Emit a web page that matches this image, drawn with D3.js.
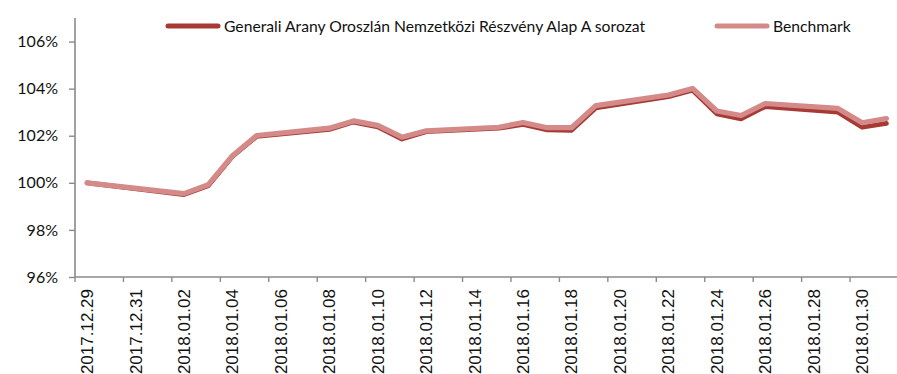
<!DOCTYPE html>
<html>
<head>
<meta charset="utf-8">
<script src="https://cdn.jsdelivr.net/npm/d3@7"></script>
<style>
  html, body { margin: 0; padding: 0; background: #fff; }
  svg { display: block; }
</style>
</head>
<body>
<svg id="chart" width="897" height="374"></svg>
<script>
// Trading days with closing values (indexed, 2017.12.29 = 100%)
const tradingDays = [
  "2017.12.29", "2018.01.02", "2018.01.03", "2018.01.04", "2018.01.05",
  "2018.01.08", "2018.01.09", "2018.01.10", "2018.01.11", "2018.01.12",
  "2018.01.15", "2018.01.16", "2018.01.17", "2018.01.18", "2018.01.19",
  "2018.01.22", "2018.01.23", "2018.01.24", "2018.01.25", "2018.01.26",
  "2018.01.29", "2018.01.30", "2018.01.31"
];
const fundValues = [
  100.00, 99.50, 99.88, 101.12, 101.97,
  102.27, 102.58, 102.38, 101.86, 102.17,
  102.32, 102.48, 102.25, 102.23, 103.18,
  103.66, 103.93, 102.93, 102.72, 103.24,
  103.00, 102.36, 102.52
];
const benchmarkValues = [
  100.00, 99.54, 99.92, 101.15, 102.01,
  102.32, 102.63, 102.44, 101.94, 102.21,
  102.36, 102.56, 102.34, 102.34, 103.28,
  103.73, 104.01, 103.05, 102.86, 103.37,
  103.16, 102.55, 102.73
];
const seriesNames = ["Generali Arany Oroszlán Nemzetközi Részvény Alap A sorozat", "Benchmark"];
const xTickLabels = [
  "2017.12.29", "2017.12.31", "2018.01.02", "2018.01.04", "2018.01.06",
  "2018.01.08", "2018.01.10", "2018.01.12", "2018.01.14", "2018.01.16",
  "2018.01.18", "2018.01.20", "2018.01.22", "2018.01.24", "2018.01.26",
  "2018.01.28", "2018.01.30"
];
const yTicks = [96, 98, 100, 102, 104, 106];
const yDomain = [96, 107];

// Calendar-day categories for the date axis
const parse = d3.timeParse("%Y.%m.%d");
const fmt = d3.timeFormat("%Y.%m.%d");
const calendarDays = d3.timeDay.range(parse("2017.12.29"), d3.timeDay.offset(parse("2018.01.31"), 1)).map(fmt);

const svg = d3.select("#chart");
const plotLeft = 75, plotRight = 898.5, plotTop = 18, plotBottom = 277;

const x = d3.scaleBand().domain(calendarDays).range([plotLeft, plotRight]).padding(0);
const y = d3.scaleLinear().domain(yDomain).range([plotBottom, plotTop]);

const axisColor = "#8a8a8a";

// Y axis
const yAxis = svg.append("g").attr("transform", `translate(${plotLeft},0)`)
  .call(d3.axisLeft(y).tickValues(yTicks).tickSize(6).tickPadding(11).tickFormat(d => d + "%"));
yAxis.select(".domain").remove();
yAxis.selectAll(".tick line").attr("stroke", axisColor).attr("stroke-width", 1.4);
yAxis.selectAll(".tick text")
  .attr("font-family", "Lato, 'Open Sans', sans-serif")
  .attr("font-size", 16).attr("fill", "#111");
svg.append("line").attr("x1", plotLeft).attr("x2", plotLeft).attr("y1", plotTop).attr("y2", plotBottom)
  .attr("stroke", axisColor).attr("stroke-width", 1.6);

// X axis: labels centred on the day, tick marks on day boundaries
const xAxis = svg.append("g").attr("transform", `translate(0,${plotBottom})`)
  .call(d3.axisBottom(x).tickValues(xTickLabels).tickSize(0).tickPadding(0));
xAxis.select(".domain").remove();
xAxis.selectAll(".tick text")
  .attr("font-family", "'Liberation Sans', Arial, sans-serif")
  .attr("font-size", 17).attr("fill", "#111")
  .attr("text-anchor", "end")
  .attr("dy", "0.35em")
  .attr("transform", "translate(0,12) rotate(-90)");
svg.append("g").selectAll("line").data(xTickLabels).join("line")
  .attr("x1", d => x(d)).attr("x2", d => x(d))
  .attr("y1", plotBottom).attr("y2", plotBottom + 5)
  .attr("stroke", axisColor).attr("stroke-width", 1.4);
svg.append("line").attr("x1", plotLeft).attr("x2", 897).attr("y1", plotBottom).attr("y2", plotBottom)
  .attr("stroke", axisColor).attr("stroke-width", 1.6);

// Lines
const colors = ["#a83a35", "#d38a89"];
const widths = [4.8, 5.2];
const line = d3.line()
  .x(d => x(d[0]) + x.bandwidth() / 2)
  .y(d => y(d[1]));
[fundValues, benchmarkValues].forEach((vals, i) => {
  svg.append("path")
    .datum(tradingDays.map((d, j) => [d, vals[j]]))
    .attr("fill", "none")
    .attr("stroke", colors[i])
    .attr("stroke-width", widths[i])
    .attr("stroke-linejoin", "round")
    .attr("stroke-linecap", "round")
    .attr("d", line);
});

// Legend
const legendX = [166, 715];
const legend = svg.append("g");
seriesNames.forEach((name, i) => {
  legend.append("line")
    .attr("x1", legendX[i] + 2).attr("x2", legendX[i] + 52)
    .attr("y1", 26).attr("y2", 26)
    .attr("stroke", colors[i]).attr("stroke-width", 5).attr("stroke-linecap", "round");
  legend.append("text")
    .attr("x", legendX[i] + 58).attr("y", 31.5)
    .attr("font-family", "Lato, 'Open Sans', sans-serif")
    .attr("font-size", 15.7).attr("fill", "#111")
    .text(name);
});
</script>
</body>
</html>
